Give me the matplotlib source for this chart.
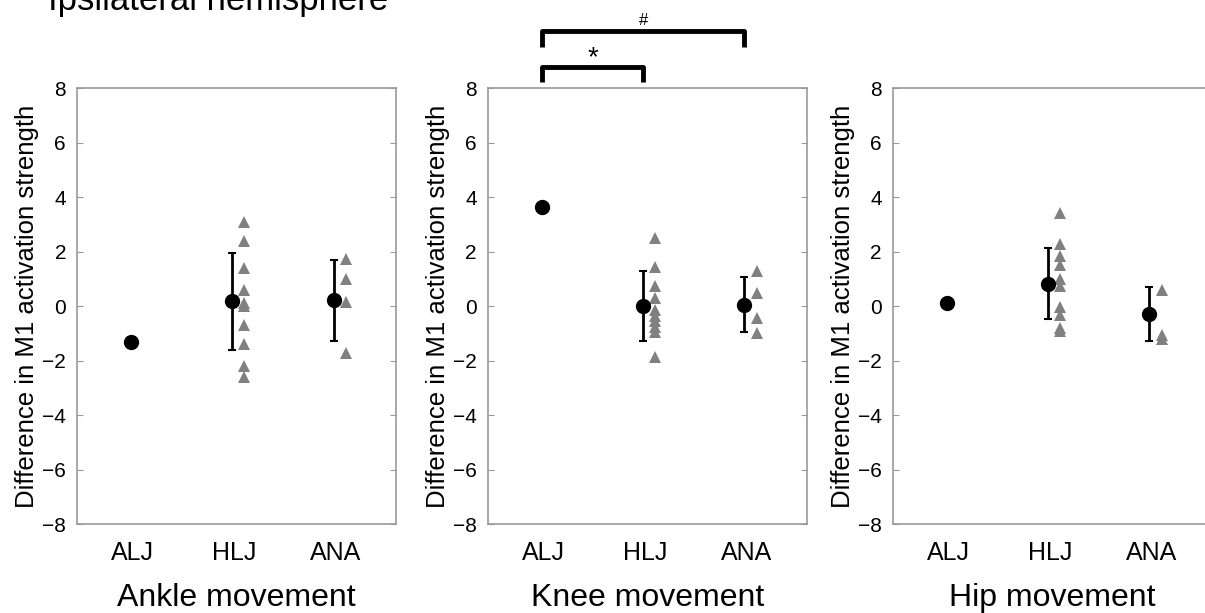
import matplotlib
matplotlib.use("Agg")
import matplotlib.pyplot as plt

plt.rcParams['font.family'] = ['Liberation Sans', 'DejaVu Sans']

# groups on the x axis
groups = ['ALJ', 'HLJ', 'ANA']
movements = ['Ankle movement', 'Knee movement', 'Hip movement']

# black circles (group value) and error bar limits, per panel
ankle_mean = [-1.3, 0.18, 0.22]
ankle_sd = [0.0, 1.78, 1.48]
knee_mean = [3.63, 0.0, 0.06]
knee_sd = [0.0, 1.28, 1.0]
hip_mean = [0.1, 0.82, -0.28]
hip_sd = [0.0, 1.3, 0.99]

# individual subjects (grey triangles), HLJ and ANA only
ankle_hlj = [3.1, 2.4, 1.4, 0.6, 0.1, 0.0, -0.7, -1.4, -2.2, -2.6]
ankle_ana = [1.72, 1.0, 0.16, -1.72]
knee_hlj = [2.5, 1.45, 0.75, 0.3, -0.15, -0.35, -0.55, -0.75, -0.95, -1.85]
knee_ana = [1.29, 0.49, -0.43, -0.98]
hip_hlj = [3.43, 2.27, 1.84, 1.5, 0.98, 0.73, -0.04, -0.34, -0.8, -0.92]
hip_ana = [0.59, -1.04, -1.19]

means = [ankle_mean, knee_mean, hip_mean]
sds = [ankle_sd, knee_sd, hip_sd]
subjects = [(ankle_hlj, ankle_ana), (knee_hlj, knee_ana), (hip_hlj, hip_ana)]

fig = plt.figure(figsize=(12.05, 6.13), dpi=100)
lefts = [0.064, 0.405, 0.741]
grey = '#999999'
xs = [1, 2, 3]

for i in range(3):
    ax = fig.add_axes([lefts[i], 0.145, 0.265, 0.711])
    cx = [x - 0.02 for x in xs]
    for k in (1, 2):
        ax.errorbar(cx[k], means[i][k], yerr=sds[i][k], fmt='none',
                    ecolor='black', elinewidth=2, capsize=3, capthick=1.5, zorder=2)
    for k, vals in enumerate(subjects[i]):
        ax.plot([xs[k + 1] + 0.1] * len(vals), vals, '^', color='#808080',
                markersize=8.5, markeredgewidth=0, zorder=3)
    ax.plot(cx, means[i], 'o', color='black', markersize=10, zorder=4)

    ax.set_xlim(0.45, 3.6)
    ax.set_ylim(-8, 8)
    ax.set_yticks(range(-8, 9, 2))
    ax.set_yticklabels([str(v).replace('-', '\u2212') for v in range(-8, 9, 2)])
    ax.set_xticks(xs)
    ax.set_xticklabels(groups, fontsize=18)
    ax.tick_params(axis='x', length=0, pad=12)
    ax.tick_params(axis='y', direction='in', right=True, length=4, color=grey,
                   labelsize=15, pad=8)
    for s in ax.spines.values():
        s.set_color(grey)
        s.set_linewidth(1.2)
    ax.set_ylabel('Difference in M1 activation strength', fontsize=18.5, labelpad=2)
    ax.set_xlabel(movements[i], fontsize=23, labelpad=13)

    if i == 1:
        # significance brackets
        ax.plot([cx[0], cx[0], cx[1], cx[1]], [8.22, 8.77, 8.77, 8.22],
                color='black', lw=3.5, clip_on=False, solid_capstyle='butt')
        ax.plot([cx[0], cx[0], cx[2], cx[2]], [9.5, 10.09, 10.09, 9.5],
                color='black', lw=3.5, clip_on=False, solid_capstyle='butt')
        ax.text((cx[0] + cx[1]) / 2, 9.1, '*', ha='center', va='center', fontsize=20)
        ax.text((cx[0] + cx[2]) / 2, 10.5, '#', ha='center', va='center', fontsize=12)

fig.text(0.04, 1 - 10 / 613, 'Ipsilateral hemisphere', fontsize=25, va='baseline')

fig.savefig('out.png', dpi=100)
